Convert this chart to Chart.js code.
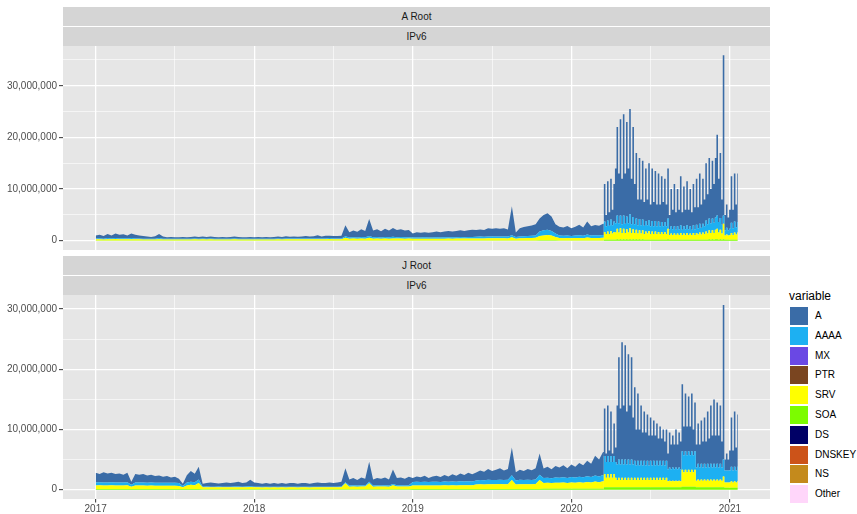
<!DOCTYPE html>
<html>
<head>
<meta charset="utf-8">
<script src="https://cdn.jsdelivr.net/npm/chart.js@4.4.1/dist/chart.umd.min.js"></script>
<style>
html,body{margin:0;padding:0;background:#fff;}
body{width:857px;height:514px;overflow:hidden;position:relative;font-family:"Liberation Sans",Arial,Helvetica,sans-serif;}
.strip{position:absolute;left:63px;width:707px;height:19px;line-height:19px;background:#D5D5D5;color:#1A1A1A;font-size:10px;text-align:center;}
.panel{position:absolute;left:0;width:770px;}
#legend{position:absolute;left:789px;top:287px;}
.lt{font-size:12px;color:#000;height:19px;line-height:19px;}
.li{position:relative;height:19.8px;}
.key{position:absolute;left:1px;top:1px;width:18px;height:18px;}
.lab{position:absolute;left:26px;top:0;line-height:20px;font-size:10px;color:#000;}
#err{position:absolute;left:100px;top:100px;color:red;font-size:14px;}
</style>
</head>
<body>
<div class="strip" style="top:7px">A Root</div>
<div class="strip" style="top:27px">IPv6</div>
<div class="strip" style="top:256px">J Root</div>
<div class="strip" style="top:276px">IPv6</div>
<div class="panel" style="top:46px;height:204px"><canvas id="cA" width="770" height="204"></canvas></div>
<div class="panel" style="top:295px;height:219px"><canvas id="cJ" width="770" height="219"></canvas></div>
<div id="legend"></div>
<div id="err"></div>
<script>
// ---------- categories (decimal years) ----------
const years = [
2017,2017.025,2017.05,2017.075,2017.1,2017.125,2017.15,2017.175,2017.2,2017.225,2017.25,2017.275,2017.3,2017.325,2017.35,2017.375,2017.4,2017.425,2017.45,2017.475,2017.5,2017.525,2017.55,2017.575,2017.6,2017.625,2017.65,2017.675,2017.7,2017.725,2017.75,2017.775,2017.8,2017.825,2017.85,2017.875,2017.9,2017.925,2017.95,2017.975,
2018,2018.025,2018.05,2018.075,2018.1,2018.125,2018.15,2018.175,2018.2,2018.225,2018.25,2018.275,2018.3,2018.325,2018.35,2018.375,2018.4,2018.425,2018.45,2018.475,2018.5,2018.525,2018.55,2018.575,2018.6,2018.625,2018.65,2018.675,2018.7,2018.725,2018.75,2018.775,2018.8,2018.825,2018.85,2018.875,2018.9,2018.925,2018.95,2018.975,
2019,2019.025,2019.05,2019.075,2019.1,2019.125,2019.15,2019.175,2019.2,2019.225,2019.25,2019.275,2019.3,2019.325,2019.35,2019.375,2019.4,2019.425,2019.45,2019.475,2019.5,2019.525,2019.55,2019.575,2019.6,2019.625,2019.65,2019.675,2019.7,2019.725,2019.75,2019.775,2019.8,2019.825,2019.85,2019.875,2019.9,2019.925,2019.95,2019.975,
2020,2020.025,2020.05,2020.075,2020.1,2020.125,2020.15,2020.175,2020.2,
2020.21,2020.22,2020.23,2020.24,2020.25,2020.26,2020.27,2020.28,2020.29,2020.3,
2020.31,2020.32,2020.33,2020.34,2020.35,2020.36,2020.37,2020.38,2020.39,2020.4,
2020.41,2020.42,2020.43,2020.44,2020.45,2020.46,2020.47,2020.48,2020.49,2020.5,
2020.51,2020.52,2020.53,2020.54,2020.55,2020.56,2020.57,2020.58,2020.59,2020.6,
2020.61,2020.62,2020.63,2020.64,2020.65,2020.66,2020.67,2020.68,2020.69,2020.7,
2020.71,2020.72,2020.73,2020.74,2020.75,2020.76,2020.77,2020.78,2020.79,2020.8,
2020.81,2020.82,2020.83,2020.84,2020.85,2020.86,2020.87,2020.88,2020.89,2020.9,
2020.91,2020.92,2020.93,2020.94,2020.95,2020.96,2020.97,2020.98,2020.99,2021,
2021.01,2021.02,2021.03,2021.04,2021.05
];
// index of 2020.20: weekly-sampled part before it, finer daily-spike part from it on
const SPLIT = 128;

// ---------- A Root, IPv6 (values in millions of queries) ----------
const aRoot_A = [
0.6,0.7,0.5,0.8,0.6,0.9,0.7,0.8,0.6,0.9,0.7,0.6,0.5,
0.4,0.35,0.45,0.8,0.4,0.3,0.35,0.3,0.3,0.35,0.3,0.35,0.4,0.35,0.4,0.35,0.4,0.35,0.3,0.35,0.3,0.35,0.4,0.35,0.3,0.3,0.35,
0.3,0.35,0.3,0.35,0.3,0.35,0.4,0.35,0.45,0.35,0.4,0.35,0.4,0.5,0.4,0.45,0.6,0.4,0.5,0.45,0.5,0.45,0.5,
2.15,
1.0,1.3,1.1,1.5,1.2,3.3,1.3,1.5,1.2,1.6,1.3,1.7,1.4,1.5,1.3,1.4,
0.8,1.0,0.9,1.0,0.9,1.0,1.1,1.0,1.1,1.2,1.1,1.2,1.3,1.2,1.3,1.4,
1.3,1.4,1.3,1.6,1.5,1.6,1.5,1.6,1.4,5.6,0.9,1.6,1.8,1.9,2.0,2.2,
2.5,3.0,3.2,2.8,1.8,
1.7,1.6,1.8,1.5,1.7,2.0,1.6,2.5,1.8,2.0,1.9,2.2,
7.3,2.2,7.6,2.6,7.9,3.0,7.3,10.6,17.1,9.6,
18.6,8.8,19.6,9.7,18.3,10.6,20.4,8.8,17.4,7.8,
12.7,5.0,11.8,5.0,11.4,4.6,10.2,5.0,11.0,4.2,
10.2,4.7,9.7,4.2,9.3,4.2,8.9,4.7,8.4,4.2,
9.7,2.8,7.2,3.8,8.2,3.4,7.2,3.8,9.5,3.4,
7.7,3.8,8.5,3.8,7.2,3.4,8.0,4.3,8.9,4.1,
9.7,4.5,8.7,5.2,11.1,5.8,11.7,6.6,11.2,7.5,
11.5,15.6,8.4,12.6,4.9,31.0,3.0,4.5,2.5,3.7,
9.0,3.6,9.3,4.4,9.4
];
const aRoot_AAAA = [
0.15,0.18,0.14,0.2,0.15,0.2,0.16,0.18,0.15,0.2,0.17,0.15,0.14,
0.14,0.13,0.15,0.2,0.14,0.13,0.14,0.13,0.13,0.14,
0.13,0.14,0.15,0.14,0.15,0.14,0.15,0.14,0.13,0.14,
0.13,0.14,0.15,0.14,0.13,0.13,0.14,0.13,0.14,0.13,
0.14,0.13,0.14,0.15,0.14,0.15,0.16,0.15,0.16,0.15,
0.16,0.15,0.16,0.17,0.16,0.17,0.2,0.16,0.17,0.17,
0.3,
0.25,0.28,0.25,0.3,0.26,0.35,0.26,0.28,0.25,0.3,0.26,0.3,0.27,0.28,0.26,0.27,
0.24,0.25,0.24,0.26,0.24,0.25,0.26,0.25,0.26,0.27,0.26,0.27,0.28,0.27,0.28,0.3,
0.32,0.34,0.33,0.36,0.35,0.36,0.35,0.36,0.34,0.4,0.3,0.36,0.38,0.4,0.42,0.45,
0.9,1.0,1.0,0.9,0.7,
0.5,0.48,0.52,0.46,0.5,0.55,0.48,0.6,0.5,0.52,0.5,0.55,
2.0,1.5,2.1,1.6,2.2,1.6,2.0,1.8,2.6,1.8,
2.5,1.7,2.6,1.8,2.5,1.8,2.7,1.7,2.4,1.7,
2.2,1.6,2.2,1.6,2.1,1.6,2.0,1.6,2.1,1.5,
2.0,1.5,2.0,1.5,2.0,1.5,1.9,1.5,1.9,1.5,
2.0,1.1,1.4,1.1,1.4,1.0,1.4,1.1,1.5,1.0,
1.4,1.1,1.5,1.1,1.4,1.0,1.5,1.1,1.6,1.2,
1.7,1.3,1.7,1.5,2.1,1.8,2.3,1.9,2.3,2.0,
2.4,2.6,2.0,2.3,1.7,1.6,1.0,1.3,1.0,1.2,
2.0,1.3,2.1,1.4,2.0
];
const aRoot_SRV = [
0.22,0.24,0.2,0.25,0.22,0.26,0.23,0.24,0.22,0.25,0.23,0.22,0.2,
0.2,0.19,0.2,0.25,0.2,0.19,0.2,0.19,0.19,0.2,
0.19,0.2,0.21,0.2,0.21,0.2,0.21,0.2,0.19,0.2,
0.19,0.2,0.21,0.2,0.19,0.19,0.2,0.19,0.2,0.19,
0.2,0.19,0.2,0.21,0.2,0.21,0.22,0.21,0.22,0.21,
0.22,0.21,0.22,0.23,0.22,0.23,0.26,0.22,0.23,0.23,
0.5,
0.33,0.36,0.34,0.38,0.35,0.5,0.35,0.37,0.34,0.38,0.35,0.4,0.36,0.37,0.35,0.36,
0.32,0.34,0.33,0.35,0.33,0.34,0.35,0.34,0.35,0.36,0.35,0.36,0.37,0.36,0.37,0.38,
0.38,0.4,0.39,0.42,0.41,0.42,0.41,0.42,0.4,0.6,0.35,0.42,0.44,0.45,0.47,0.5,
0.8,0.9,1.0,0.9,0.6,
0.45,0.44,0.46,0.42,0.45,0.48,0.44,0.55,0.46,0.47,0.46,0.5,
1.5,1.1,1.6,1.1,1.7,1.2,1.5,1.4,2.0,1.4,
2.1,1.3,2.0,1.3,1.9,1.4,2.1,1.3,1.9,1.3,
1.8,1.2,1.7,1.2,1.7,1.1,1.6,1.2,1.7,1.1,
1.6,1.1,1.6,1.1,1.5,1.1,1.5,1.1,1.5,1.1,
2.0,0.9,1.2,0.9,1.2,0.9,1.2,0.9,1.3,0.9,
1.2,0.9,1.3,0.9,1.2,0.9,1.3,0.9,1.3,1.0,
1.4,1.0,1.4,1.1,1.6,1.2,1.7,1.3,1.7,1.3,
1.8,2.0,1.4,1.8,1.2,3.0,0.8,1.0,0.8,0.9,
1.3,0.9,1.4,1.0,1.4
];
const aRoot_SOA = [
0.05,0.05,0.05,0.05,0.05,0.05,0.05,0.05,0.05,0.05,
0.05,0.05,0.05,0.05,0.05,0.05,0.05,0.05,0.05,0.05,
0.05,0.05,0.05,0.05,0.05,0.05,0.05,0.05,0.05,0.05,
0.05,0.05,0.05,0.05,0.05,0.05,0.05,0.05,0.05,0.05,
0.05,0.05,0.05,0.05,0.05,0.05,0.05,0.05,0.05,0.05,
0.05,0.05,0.05,0.05,0.05,0.05,0.05,0.05,0.05,0.05,
0.05,0.05,0.05,0.05,0.05,0.05,0.05,0.05,0.05,0.05,
0.05,0.05,0.05,0.05,0.05,0.05,0.05,0.05,0.05,0.05,
0.05,0.05,0.05,0.05,0.05,0.05,0.05,0.05,0.05,0.05,
0.05,0.05,0.05,0.05,0.05,0.05,0.05,0.05,0.05,0.05,
0.05,0.05,0.05,0.05,0.05,0.05,0.05,0.05,0.05,0.05,
0.05,0.05,
0.1,0.1,0.1,0.1,0.1,
0.05,0.05,0.05,0.05,0.05,0.05,0.05,0.05,0.05,0.05,0.05,0.05,
0.2,0.2,0.2,0.2,0.2,0.2,0.2,0.2,0.3,0.2,
0.3,0.2,0.3,0.2,0.3,0.2,0.3,0.2,0.3,0.2,
0.3,0.2,0.3,0.2,0.3,0.2,0.2,0.2,0.2,0.2,
0.2,0.2,0.2,0.2,0.2,0.2,0.2,0.2,0.2,0.2,
0.3,0.2,0.2,0.2,0.2,0.2,0.2,0.2,0.2,0.2,
0.2,0.2,0.2,0.2,0.2,0.2,0.2,0.2,0.2,0.2,
0.2,0.2,0.2,0.2,0.2,0.2,0.3,0.2,0.3,0.2,
0.3,0.3,0.2,0.3,0.2,0.3,0.2,0.2,0.2,0.2,
0.2,0.2,0.2,0.2,0.2
];

// ---------- J Root, IPv6 (values in millions of queries) ----------
const jRoot_A = [
1.6,1.4,1.7,1.5,1.6,1.4,1.5,1.3,1.6,
0.5,
1.4,1.3,1.4,1.2,1.3,1.1,1.2,1.0,1.1,0.9,1.0,0.7,
0.4,
1.2,1.8,1.4,2.1,
0.5,0.6,0.7,0.6,0.5,0.6,0.7,0.6,0.7,0.8,
0.6,0.7,1.1,0.7,0.6,0.5,0.6,0.5,0.6,0.5,
0.6,0.5,0.6,0.6,0.5,0.6,0.6,0.5,0.6,0.7,
0.6,0.6,0.7,0.6,0.7,0.8,
2.3,
1.0,1.2,0.9,1.3,1.1,3.35,1.0,1.2,1.1,1.3,1.0,2.4,1.2,1.3,1.1,1.4,
0.7,0.9,0.8,1.0,0.7,0.9,1.0,0.8,1.1,0.9,1.2,1.0,1.3,1.1,1.4,1.2,
1.3,1.6,1.4,1.8,1.5,1.7,1.9,1.6,1.8,4.6,1.4,1.7,1.5,1.8,1.6,1.9,
3.5,
1.6,1.8,1.5,1.9,1.7,2.0,1.6,2.1,1.8,2.3,2.0,2.6,2.2,3.3,2.8,3.8,
7.9,1.4,8.4,1.9,7.4,1.4,5.4,2.4,
9.8,17.0,9.3,19.5,9.8,19.0,8.8,17.5,9.8,17.0,7.8,
12.2,6.0,11.2,6.0,9.2,5.5,8.2,5.5,7.7,5.0,7.2,5.0,6.7,5.0,6.2,4.5,5.7,4.5,5.2,4.0,5.2,
2.6,5.8,4.1,5.3,4.1,6.3,4.1,5.8,4.6,
11.1,4.8,9.6,4.8,9.1,4.8,9.6,4.3,8.1,
3.8,6.7,3.8,7.2,4.3,7.7,4.3,8.7,4.8,9.7,5.3,10.7,5.3,10.2,5.3,9.7,4.3,
25.7,
1.8,2.8,1.8,3.3,8.2,3.3,9.2,3.8,8.7
];
const jRoot_AAAA = [
0.5,0.5,0.5,0.5,0.5,0.5,0.5,0.5,0.5,
0.3,
0.5,0.5,0.5,0.5,0.5,0.5,0.5,0.5,0.5,0.5,0.5,0.5,
0.2,
0.5,0.5,0.5,0.6,
0.1,0.1,0.1,0.1,0.1,0.1,0.1,0.1,0.1,0.1,
0.1,0.1,0.1,0.1,0.1,0.1,0.1,0.1,0.1,0.1,
0.1,0.1,0.1,0.1,0.1,0.1,0.1,0.1,0.1,0.1,
0.1,0.1,0.1,0.1,0.1,0.1,
0.2,
0.2,0.2,0.2,0.2,0.2,0.25,0.2,0.2,0.2,0.2,0.2,0.2,0.2,0.2,0.2,0.2,
0.58,0.6,0.59,0.62,0.58,0.6,0.62,0.6,0.63,0.6,0.64,0.62,0.65,0.63,0.66,0.64,
0.68,0.7,0.69,0.72,0.7,0.71,0.73,0.7,0.72,0.8,0.66,0.72,0.7,0.73,0.71,0.74,
0.9,
0.82,0.85,0.8,0.86,0.84,0.88,0.83,0.9,0.86,0.92,0.88,0.95,0.9,1.0,0.95,1.05,
3.0,2.6,3.0,2.6,3.0,2.6,3.0,2.6,
2.6,3.0,2.6,3.0,2.6,3.0,2.6,3.0,2.6,3.0,2.6,
2.8,2.4,2.8,2.4,2.8,2.4,2.8,2.4,2.8,2.4,2.8,2.4,2.8,2.4,2.8,2.4,2.8,2.4,2.8,2.4,2.8,
2.0,2.2,2.0,2.2,2.0,2.2,2.0,2.2,2.0,
3.1,2.8,3.1,2.8,3.1,2.8,3.1,2.8,3.1,
2.2,2.6,2.2,2.6,2.2,2.6,2.2,2.6,2.2,2.6,2.2,2.6,2.2,2.6,2.2,2.6,2.2,
2.8,
2.0,2.0,2.0,2.0,2.4,2.0,2.4,2.0,2.4
];
const jRoot_SRV = [
0.6,0.62,0.58,0.6,0.62,0.6,0.58,0.6,0.62,
0.4,
0.6,0.58,0.6,0.57,0.58,0.56,0.57,0.55,0.56,0.54,0.55,0.5,
0.3,
0.6,0.7,0.65,1.0,
0.35,0.36,0.34,0.35,0.36,0.35,0.34,0.35,0.36,0.37,
0.35,0.36,0.4,0.35,0.34,0.33,0.34,0.33,0.34,0.33,
0.34,0.33,0.34,0.34,0.33,0.34,0.34,0.33,0.34,0.35,
0.34,0.34,0.35,0.34,0.35,0.36,
1.0,
0.45,0.47,0.44,0.48,0.46,1.0,0.45,0.47,0.46,0.48,0.45,0.7,0.47,0.48,0.46,0.49,
0.58,0.6,0.59,0.61,0.58,0.6,0.61,0.59,0.62,0.6,0.63,0.61,0.64,0.62,0.65,0.63,
0.76,0.8,0.78,0.82,0.79,0.81,0.83,0.8,0.82,1.5,0.75,0.81,0.79,0.82,0.8,0.83,
1.5,
0.95,1.0,0.95,1.02,0.98,1.03,0.97,1.05,1.0,1.08,1.02,1.12,1.05,1.2,1.1,1.25,
2.2,1.6,2.2,1.6,2.2,1.6,2.2,1.6,
1.2,1.6,1.2,1.6,1.2,1.6,1.2,1.6,1.2,1.6,1.2,
1.6,1.2,1.6,1.2,1.6,1.2,1.6,1.2,1.6,1.2,1.6,1.2,1.6,1.2,1.6,1.2,1.6,1.2,1.6,1.2,1.6,
1.0,1.1,1.0,1.1,1.0,1.1,1.0,1.1,1.0,
2.8,2.4,2.8,2.4,2.8,2.4,2.8,2.4,2.8,
1.1,1.3,1.1,1.3,1.1,1.3,1.1,1.3,1.1,1.3,1.1,1.3,1.1,1.3,1.1,1.3,1.1,
1.8,
0.9,0.9,0.9,0.9,1.1,0.9,1.1,0.9,1.1
];
const jRoot_SOA = [
0.1,0.1,0.1,0.1,0.1,0.1,0.1,0.1,0.1,0.1,
0.1,0.1,0.1,0.1,0.1,0.1,0.1,0.1,0.1,0.1,
0.1,0.1,0.1,0.1,0.1,0.1,0.1,
0.05,0.05,0.05,0.05,0.05,0.05,0.05,0.05,0.05,0.05,
0.05,0.05,0.05,0.05,0.05,0.05,0.05,0.05,0.05,0.05,
0.05,0.05,0.05,0.05,0.05,0.05,0.05,0.05,0.05,0.05,
0.05,0.05,0.05,0.05,0.05,0.05,0.05,0.05,0.05,0.05,
0.05,0.05,0.05,0.05,0.05,0.05,0.05,0.05,0.05,0.05,
0.05,0.05,0.05,
0.1,0.1,0.1,0.1,0.1,0.1,0.1,0.1,0.1,0.1,
0.1,0.1,0.1,0.1,0.1,0.1,0.1,0.1,0.1,0.1,
0.1,0.1,0.1,0.1,0.1,0.1,0.1,0.1,0.1,0.1,
0.1,0.1,0.1,
0.15,0.15,0.15,0.15,0.15,0.15,0.15,0.15,0.15,0.15,0.15,0.15,0.15,0.15,0.15,0.15,
0.4,0.4,0.4,0.4,0.4,0.4,0.4,0.4,0.4,0.4,
0.4,0.4,0.4,0.4,0.4,0.4,0.4,0.4,0.4,0.4,
0.4,0.4,0.4,0.4,0.4,0.4,0.4,0.4,0.4,0.4,
0.4,0.4,0.4,0.4,0.4,0.4,0.4,0.4,0.4,0.4,
0.4,0.4,0.4,0.4,0.4,0.4,0.4,0.4,0.4,
0.5,0.5,0.5,0.5,0.5,0.5,0.5,0.5,0.5,
0.4,0.4,0.4,0.4,0.4,0.4,0.4,0.4,0.4,0.4,
0.4,0.4,0.4,0.4,0.4,0.4,0.4,0.4,
0.3,0.3,0.3,0.3,0.3,0.3,0.3,0.3,0.3
];

// ---------- legend / ticks ----------
const variables = ['A','AAAA','MX','PTR','SRV','SOA','DS','DNSKEY','NS','Other'];
const varColors = ['#3A6CA7','#1DB0F2','#6A48E4','#7A4520','#FFFF00','#7CFC00','#000066','#CC5319','#C48A1C','#FFD6FA'];
const xTicks = [2017,2017.5,2018,2018.5,2019,2019.5,2020,2020.5,2021];
const yTicksA = [0,5,10,15,20,25,30,35];
const yTicksJ = [0,5,10,15,20,25,30];

// ---------- build ----------
const FONT = '"Liberation Sans", Arial, Helvetica, sans-serif';
const colorOf = n => varColors[variables.indexOf(n)];
const errs = [];
[['aA',aRoot_A],['aAAAA',aRoot_AAAA],['aSRV',aRoot_SRV],['aSOA',aRoot_SOA],['jA',jRoot_A],['jAAAA',jRoot_AAAA],['jSRV',jRoot_SRV],['jSOA',jRoot_SOA]].forEach(([n,a])=>{ if(a.length!==years.length) errs.push(n+':'+a.length+'/'+years.length); });
if(errs.length) document.getElementById('err').textContent = errs.join(' ');

const panelBg = {id:'panelBg', beforeDraw(c){const a=c.chartArea, x=c.ctx; x.save(); x.fillStyle='#E6E6E6'; x.fillRect(a.left,a.top,a.right-a.left,a.bottom-a.top); x.restore();}};
const isMajorX = v => Math.abs(v - Math.round(v)) < 1e-6;
const isMajorY = v => Math.abs(v % 10) < 1e-6;
const fmt = v => String(Math.round(v*1e6)).replace(/\B(?=(\d{3})+(?!\d))/g, ',');

function makeChart(id, series, yMin, yMax, yTicks, showX){
  const stackOrder = ['SOA','SRV','AAAA','A']; // bottom -> top
  const parts = [
    {key:'pre',  from:0,     to:SPLIT,          stepped:false},
    {key:'post', from:SPLIT, to:years.length-1, stepped:'middle'}
  ];
  const datasets = [];
  parts.forEach(p=>{
    stackOrder.forEach((name,i)=>{
      const pts = [];
      for(let j=p.from;j<=p.to;j++) pts.push({x:years[j], y:series[name][j]});
      datasets.push({
        label:name, stack:p.key, data:pts,
        backgroundColor: colorOf(name), borderColor: colorOf(name),
        borderWidth:0, pointRadius:0, tension:0, stepped:p.stepped,
        fill: i===0 ? 'origin' : '-1'
      });
    });
  });
  return new Chart(document.getElementById(id), {
    type:'line',
    data:{datasets},
    plugins:[panelBg],
    options:{
      responsive:false, animation:false, devicePixelRatio:1,
      layout:{padding:0, autoPadding:false},
      plugins:{legend:{display:false}, tooltip:{enabled:false}},
      elements:{point:{radius:0}, line:{borderWidth:0}},
      scales:{
        x:{
          type:'linear', min:2016.794, max:2021.253,
          afterBuildTicks:s=>{s.ticks = xTicks.map(v=>({value:v}));},
          afterFit:s=>{s.height = showX?15:0; s.paddingLeft=0; s.paddingRight=0;},
          border:{display:false},
          grid:{color:'#FFFFFF', lineWidth:c=>(c.tick && isMajorX(c.tick.value))?1.3:0.6,
                drawTicks:showX, tickLength:3.5, tickWidth:1,
                tickColor:c=>(c.tick && isMajorX(c.tick.value))?'#333333':'rgba(0,0,0,0)'},
          ticks:{display:showX, autoSkip:false, maxRotation:0, minRotation:0, padding:1, color:'#4D4D4D',
                 font:{family:FONT,size:10}, callback:v=>isMajorX(v)?String(Math.round(v)):''}
        },
        y:{
          type:'linear', stacked:true, min:yMin, max:yMax,
          afterBuildTicks:s=>{s.ticks = yTicks.map(v=>({value:v}));},
          afterFit:s=>{s.width=63; s.paddingTop=0; s.paddingBottom=0;},
          border:{display:false},
          grid:{color:'#FFFFFF', lineWidth:c=>(c.tick && isMajorY(c.tick.value))?1.3:0.6,
                drawTicks:true, tickLength:4, tickWidth:1,
                tickColor:c=>(c.tick && isMajorY(c.tick.value))?'#333333':'rgba(0,0,0,0)'},
          ticks:{padding:2, color:'#4D4D4D', font:{family:FONT,size:10},
                 callback:v=>isMajorY(v)?fmt(v):''}
        }
      }
    }
  });
}

makeChart('cA', {A:aRoot_A, AAAA:aRoot_AAAA, SRV:aRoot_SRV, SOA:aRoot_SOA}, -1.8, 37.7, yTicksA, false);
makeChart('cJ', {A:jRoot_A, AAAA:jRoot_AAAA, SRV:jRoot_SRV, SOA:jRoot_SOA}, -1.55, 32.35, yTicksJ, true);

// legend
const lg = document.getElementById('legend');
let html = '<div class="lt">variable</div>';
variables.forEach((v,i)=>{ html += '<div class="li"><div class="key" style="background:'+varColors[i]+'"></div><div class="lab">'+v+'</div></div>'; });
lg.innerHTML = html;
</script>
</body>
</html>
